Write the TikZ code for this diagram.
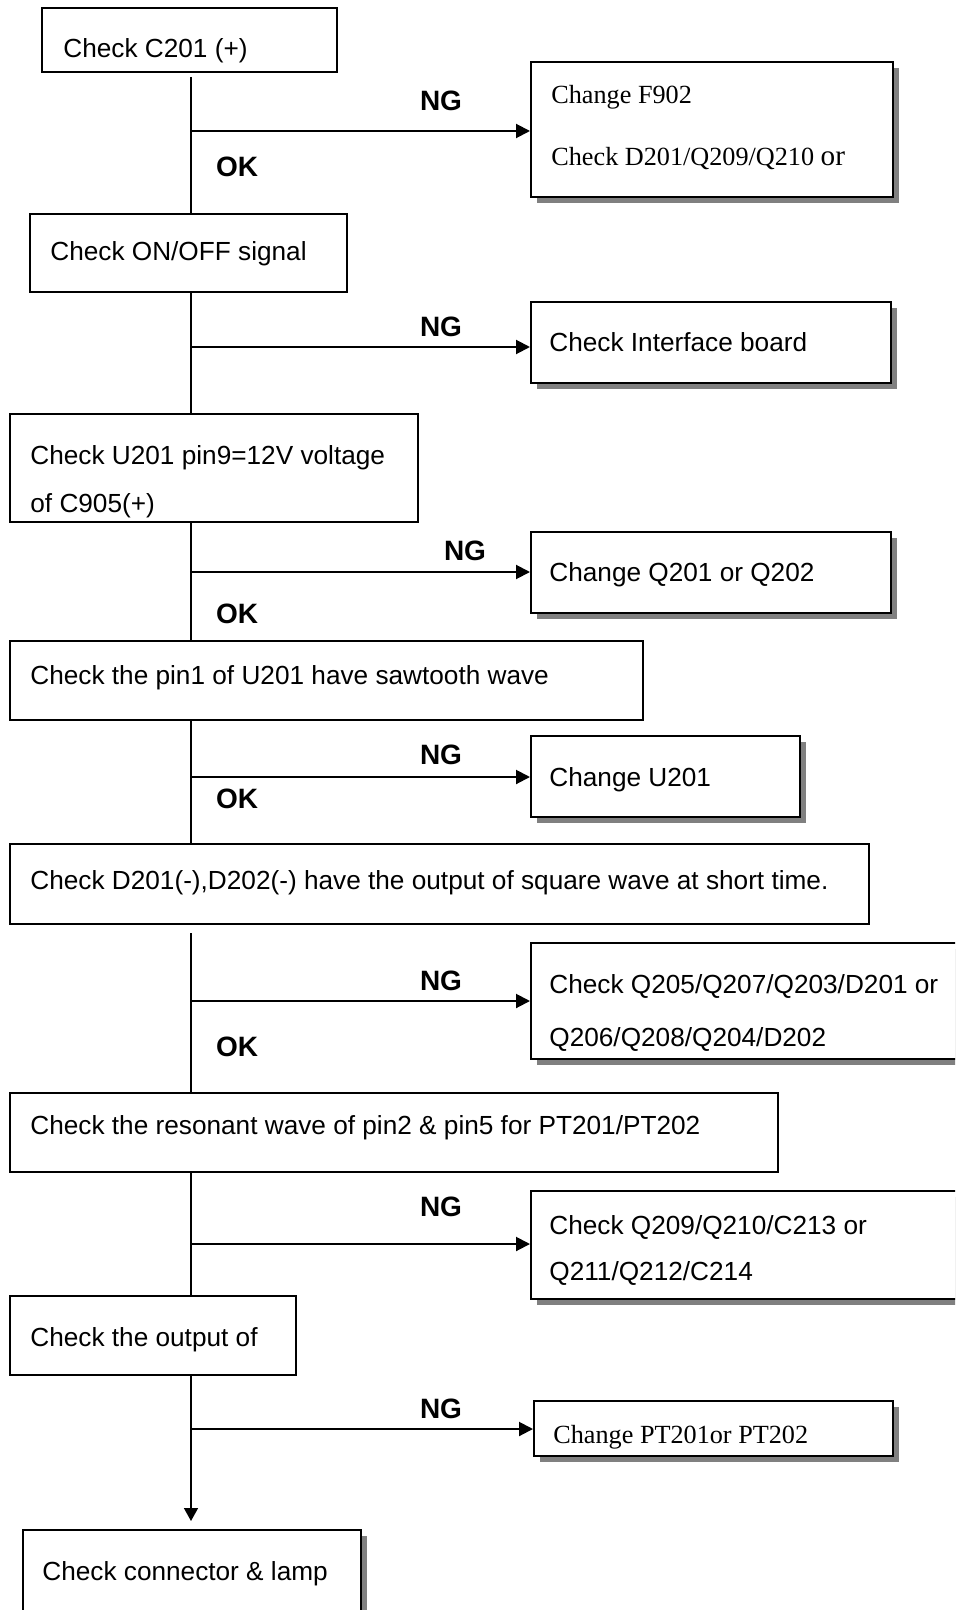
\documentclass[tikz,border=0pt]{standalone}
\usepackage{fontspec}
\setmainfont{Liberation Sans}
\newfontfamily\tms{Liberation Serif}
\usetikzlibrary{fit,shadows,arrows.meta}
\tikzset{
  box/.style={draw, line width=1pt, rectangle, inner sep=0pt, fill=white},
  sbox/.style={box, drop shadow={shadow xshift=2.8pt, shadow yshift=-2.8pt, fill=black!50, opacity=1}},
  txt/.style={anchor=base west, inner sep=0pt, font=\fontsize{13.1}{15}\selectfont},
  ttxt/.style={anchor=base west, inner sep=0pt, font=\tms\fontsize{13.1}{15}\selectfont},
  lbl/.style={inner sep=0pt, font=\bfseries\fontsize{14}{16}\selectfont},
  spine/.style={line width=0.75pt},
  ngarrow/.style={line width=1pt, -{Triangle[length=7pt,width=7pt]}},
  downarrow/.style={line width=0.75pt, -{Triangle[length=6.5pt,width=7pt]}}
}
\begin{document}
\begin{tikzpicture}[x=0.5pt,y=-0.5pt]
\clip (0,0) rectangle (955,1610);
\fill[white] (0,0) rectangle (955,1610);
\coordinate (sp) at (191,0);
% boxes
\node[box,  fit={(42,8)(337,72)}] (b1) {};
\node[sbox, fit={(531,62)(893,197)}] (b2) {};
\node[box,  fit={(30,214)(347,292)}] (b3) {};
\node[sbox, fit={(531,302)(891,383)}] (b4) {};
\node[box,  fit={(10,414)(418,522)}] (b5) {};
\node[sbox, fit={(531,532)(891,613)}] (b6) {};
\node[box,  fit={(10,641)(643,720)}] (b7) {};
\node[sbox, fit={(531,736)(800,817)}] (b8) {};
\node[box,  fit={(10,844)(869,924)}] (b9) {};
\node[sbox, fit={(531,943)(968,1059)}] (b10) {};
\node[box,  fit={(10,1093)(778,1172)}] (b11) {};
\node[sbox, fit={(531,1191)(968,1299)}] (b12) {};
\node[box,  fit={(10,1296)(296,1375)}] (b13) {};
\node[sbox, fit={(534,1401)(893,1456)}] (b14) {};
\node[sbox, fit={(23,1530)(361,1625)}] (b15) {};
% texts
\node[txt]  (t1)  at (63,58)   {Check C201 (+)};
\node[ttxt] (t2a) at (551,104) {Change F902};
\node[ttxt] (t2b) at (551,166) {Check D201/Q209/Q210 {\fontsize{14.6}{16}\selectfont or}};
\node[txt]  (t3)  at (50,261)  {Check ON/OFF signal};
\node[txt]  (t4)  at (549,351) {Check Interface board};
\node[txt]  (t5a) at (30,464)  {Check U201 pin9=12V voltage};
\node[txt]  (t5b) at (30,512)  {of C905(+)};
\node[txt]  (t6)  at (549,581) {Change Q201 or Q202};
\node[txt]  (t7)  at (30,684)  {Check the pin1 of U201 have sawtooth wave};
\node[txt]  (t8)  at (549,786) {Change U201};
\node[txt]  (t9)  at (30,889)  {Check D201(-),D202(-) have the output of square wave at short time.};
\node[txt]  (t10a) at (549,993) {Check Q205/Q207/Q203/D201 or};
\node[txt]  (t10b) at (549,1046) {Q206/Q208/Q204/D202};
\node[txt]  (t11) at (30,1134) {Check the resonant wave of pin2 \& pin5 for PT201/PT202};
\node[txt]  (t12a) at (549,1234) {Check Q209/Q210/C213 or};
\node[txt]  (t12b) at (549,1280) {Q211/Q212/C214};
\node[txt]  (t13) at (30,1346) {Check the output of};
\node[ttxt] (t14) at (553,1443) {Change PT201or PT202};
\node[txt]  (t15) at (42,1580) {Check connector \& lamp};
% spine
\draw[spine] ([yshift=-2pt]b1.south -| sp) -- (b3.north -| sp);
\draw[spine] (b3.south -| sp) -- (b5.north -| sp);
\draw[spine] (b5.south -| sp) -- (b7.north -| sp);
\draw[spine] (b7.south -| sp) -- (b9.north -| sp);
\draw[spine] ([yshift=-4pt]b9.south -| sp) -- (b11.north -| sp);
\draw[spine] (b11.south -| sp) -- (b13.north -| sp);
\draw[downarrow] (b13.south -| sp) -- ([yshift=4pt]b15.north -| sp);
% junctions
\coordinate (j1) at (191,131);
\coordinate (j2) at (191,347);
\coordinate (j3) at (191,572);
\coordinate (j4) at (191,777);
\coordinate (j5) at (191,1001);
\coordinate (j6) at (191,1244);
\coordinate (j7) at (191,1429);
\draw[ngarrow] (j1) -- (j1 -| b2.west);
\draw[ngarrow] (j2) -- (j2 -| b4.west);
\draw[ngarrow] (j3) -- (j3 -| b6.west);
\draw[ngarrow] (j4) -- (j4 -| b8.west);
\draw[ngarrow] (j5) -- (j5 -| b10.west);
\draw[ngarrow] (j6) -- (j6 -| b12.west);
\draw[ngarrow] (j7) -- (j7 -| b14.west);
% labels
\node[lbl] (ng1) at (441,101) {NG};
\node[lbl] (ng2) at (441,327) {NG};
\node[lbl] (ng3) at (465,551) {NG};
\node[lbl] (ng4) at (441,755) {NG};
\node[lbl] (ng5) at (441,981) {NG};
\node[lbl] (ng6) at (441,1207) {NG};
\node[lbl] (ng7) at (441,1409) {NG};
\node[lbl] (ok1) at (237,167) {OK};
\node[lbl] (ok2) at (237,614) {OK};
\node[lbl] (ok3) at (237,799) {OK};
\node[lbl] (ok4) at (237,1047) {OK};
\end{tikzpicture}
\end{document}
